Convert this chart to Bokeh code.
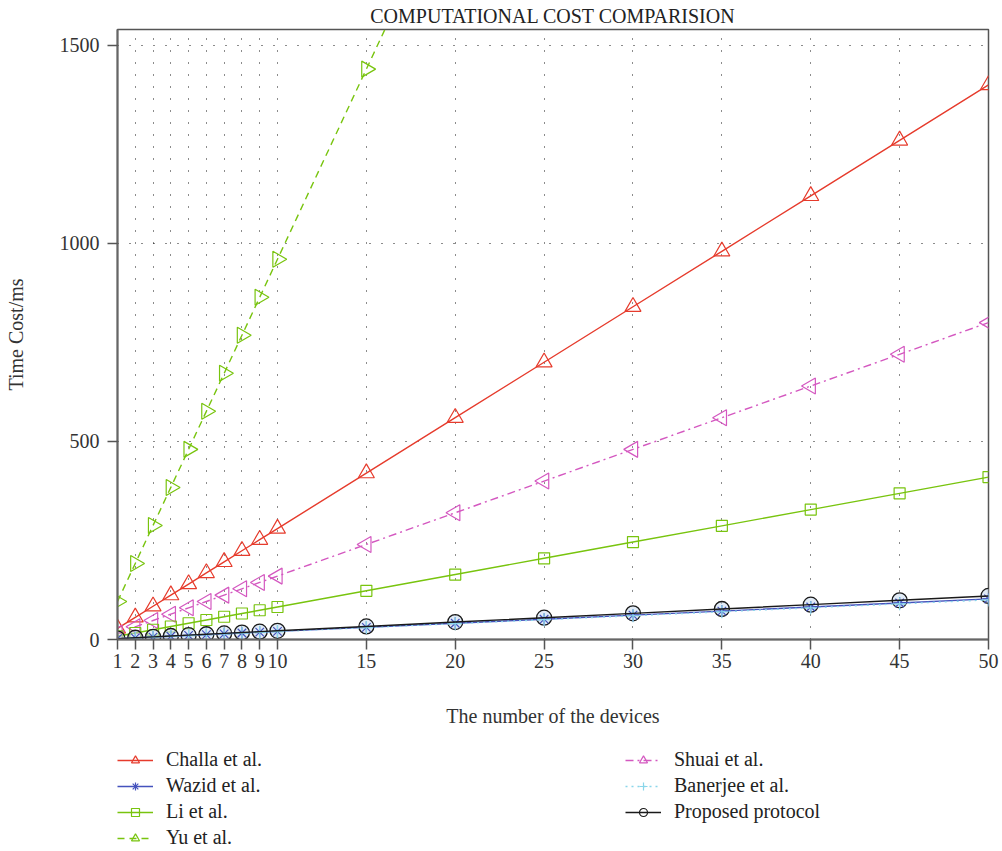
from bokeh.plotting import figure
from bokeh.layouts import column
from bokeh.models import (FixedTicker, Range1d, Legend, LegendItem, Title)
from bokeh.embed import file_html
from bokeh.resources import INLINE

devices = [1, 2, 3, 4, 5, 6, 7, 8, 9, 10, 15, 20, 25, 30, 35, 40, 45, 50]
challa = [28, 56, 84, 112, 140, 168, 196, 224, 252, 280, 420, 560, 700, 840, 980, 1120, 1260, 1400]
wazid = [2.05, 4.1, 6.15, 8.2, 10.25, 12.3, 14.35, 16.4, 18.45, 20.5, 30.75, 41, 51.25, 61.5, 71.75, 82, 92.25, 102.5]
li = [8.2, 16.4, 24.6, 32.8, 41, 49.2, 57.4, 65.6, 73.8, 82, 123, 164, 205, 246, 287, 328, 369, 410]
yu = [96, 192, 288, 384, 480, 576, 672, 768, 864, 960, 1440, 1920, 2400, 2880, 3360, 3840, 4320, 4800]
shuai = [16, 32, 48, 64, 80, 96, 112, 128, 144, 160, 240, 320, 400, 480, 560, 640, 720, 800]
banerjee = [2, 4, 6, 8, 10, 12, 14, 16, 18, 20, 30, 40, 50, 60, 70, 80, 90, 100]
proposed = [2.2, 4.4, 6.6, 8.8, 11, 13.2, 15.4, 17.6, 19.8, 22, 33, 44, 55, 66, 77, 88, 99, 110]
y_ticks = [0, 500, 1000, 1500]
legend_order = ["Challa et al.", "Wazid et al.", "Li et al.", "Yu et al.",
                "Shuai et al.", "Banerjee et al.", "Proposed protocol"]

FONT = "Liberation Serif"
FS = "20px"

RED = "#e63b2c"
BLUE = "#4452bd"
GREEN = "#78c40e"
MAG = "#d458c0"
CYAN = "#8ad6ea"
BLACK = "#1a1a1a"

p = figure(width=1002, height=746, output_backend="svg", toolbar_location=None,
           x_range=Range1d(1, 50), y_range=Range1d(0, 1540),
           min_border_left=117, min_border_right=14, min_border_top=29, min_border_bottom=107)

p.add_layout(Title(text="COMPUTATIONAL COST COMPARISION", align="center",
                   text_font=FONT, text_font_size=FS, text_font_style="normal",
                   text_color="#222222", standoff=5, offset=0), "above")

p.outline_line_color = "#555555"
p.outline_line_width = 1.5

for ax in (p.xaxis[0], p.yaxis[0]):
    ax.axis_line_color = "#666666"
    ax.axis_line_width = 2
    ax.major_tick_line_color = "#555555"
    ax.major_tick_line_width = 1.5
    ax.major_tick_in = 0
    ax.major_tick_out = 10
    ax.minor_tick_line_color = None
    ax.major_label_text_font = FONT
    ax.major_label_text_font_size = FS
    ax.major_label_text_color = "#333333"
    ax.axis_label_text_font = FONT
    ax.axis_label_text_font_size = FS
    ax.axis_label_text_font_style = "normal"
    ax.axis_label_text_color = "#333333"

p.xaxis.ticker = FixedTicker(ticks=devices)
p.yaxis.ticker = FixedTicker(ticks=y_ticks)
p.xaxis.axis_label = "The number of the devices"
p.yaxis.axis_label = "Time Cost/ms"
p.xaxis.major_label_standoff = 4
p.xaxis.axis_label_standoff = 34
p.yaxis.major_label_standoff = 8
p.yaxis.axis_label_standoff = 30

for g in (p.xgrid[0], p.ygrid[0]):
    g.grid_line_color = "black"
    g.grid_line_alpha = 0.9
    g.grid_line_width = 1
    g.grid_line_dash = "1 11"
p.xgrid.ticker = FixedTicker(ticks=devices)
p.ygrid.ticker = FixedTicker(ticks=y_ticks)

# styles per series: (values, color, dash, marker, angle, size)
styles = {
    "Yu et al.": (yu, GREEN, "7 5", "triangle", -1.5708, 16),
    "Challa et al.": (challa, RED, "solid", "triangle", 0.0, 16),
    "Shuai et al.": (shuai, MAG, "8 4 2 4", "triangle", 1.5708, 16),
    "Li et al.": (li, GREEN, "solid", "square", 0.0, 11),
    "Proposed protocol": (proposed, BLACK, "solid", "circle", 0.0, 15),
    "Wazid et al.": (wazid, BLUE, "solid", "asterisk", 0.0, 12),
    "Banerjee et al.": (banerjee, CYAN, "2 4", "cross", 0.0, 13),
}

draw_order = ["Yu et al.", "Challa et al.", "Shuai et al.", "Li et al.",
              "Proposed protocol", "Wazid et al.", "Banerjee et al."]
for name in draw_order:
    vals, col, dash, mk, ang, sz = styles[name]
    if name == "Proposed protocol":
        p.scatter(devices, vals, marker=mk, size=sz, line_color=col,
                  fill_color="#c4d8ee", fill_alpha=0.5, line_width=1.3)
        continue
    p.line(devices, vals, color=col, line_width=1.4, line_dash=dash)
    p.scatter(devices, vals, marker=mk, angle=ang, size=sz, line_color=col,
              fill_color=None, line_width=1.2)
# black line of the proposed protocol on top
p.line(devices, proposed, color=BLACK, line_width=1.4)

# legend panel below: its renderers use the same data, but the view range shows none of it
lg = figure(width=1002, height=105, output_backend="svg", toolbar_location=None,
            x_range=Range1d(1000, 1001), y_range=Range1d(1000, 1001),
            x_axis_location=None, y_axis_location=None, min_border=0)
lg.grid.grid_line_color = None
lg.outline_line_color = None

litems = []
for name in legend_order:
    vals, col, dash, mk, ang, sz = styles[name]
    rl = lg.line(devices, vals, color=col, line_width=1.4, line_dash=dash)
    rm = lg.scatter(devices, vals, marker=mk, size=sz, line_color=col, fill_color=None, line_width=1.2)
    litems.append(LegendItem(label=name, renderers=[rl, rm]))

legend = Legend(items=litems, location=(0, 2), nrows=4, orientation="vertical",
                label_text_font=FONT, label_text_font_size=FS, label_text_color="#222222",
                glyph_width=36, glyph_height=20, label_height=20, label_width=456,
                label_standoff=13, spacing=3, padding=0, margin=0,
                background_fill_alpha=0, border_line_color=None)
lg.add_layout(legend, "center")

layout = column(p, lg, spacing=0)
open("out.html", "w").write(file_html(layout, INLINE))
